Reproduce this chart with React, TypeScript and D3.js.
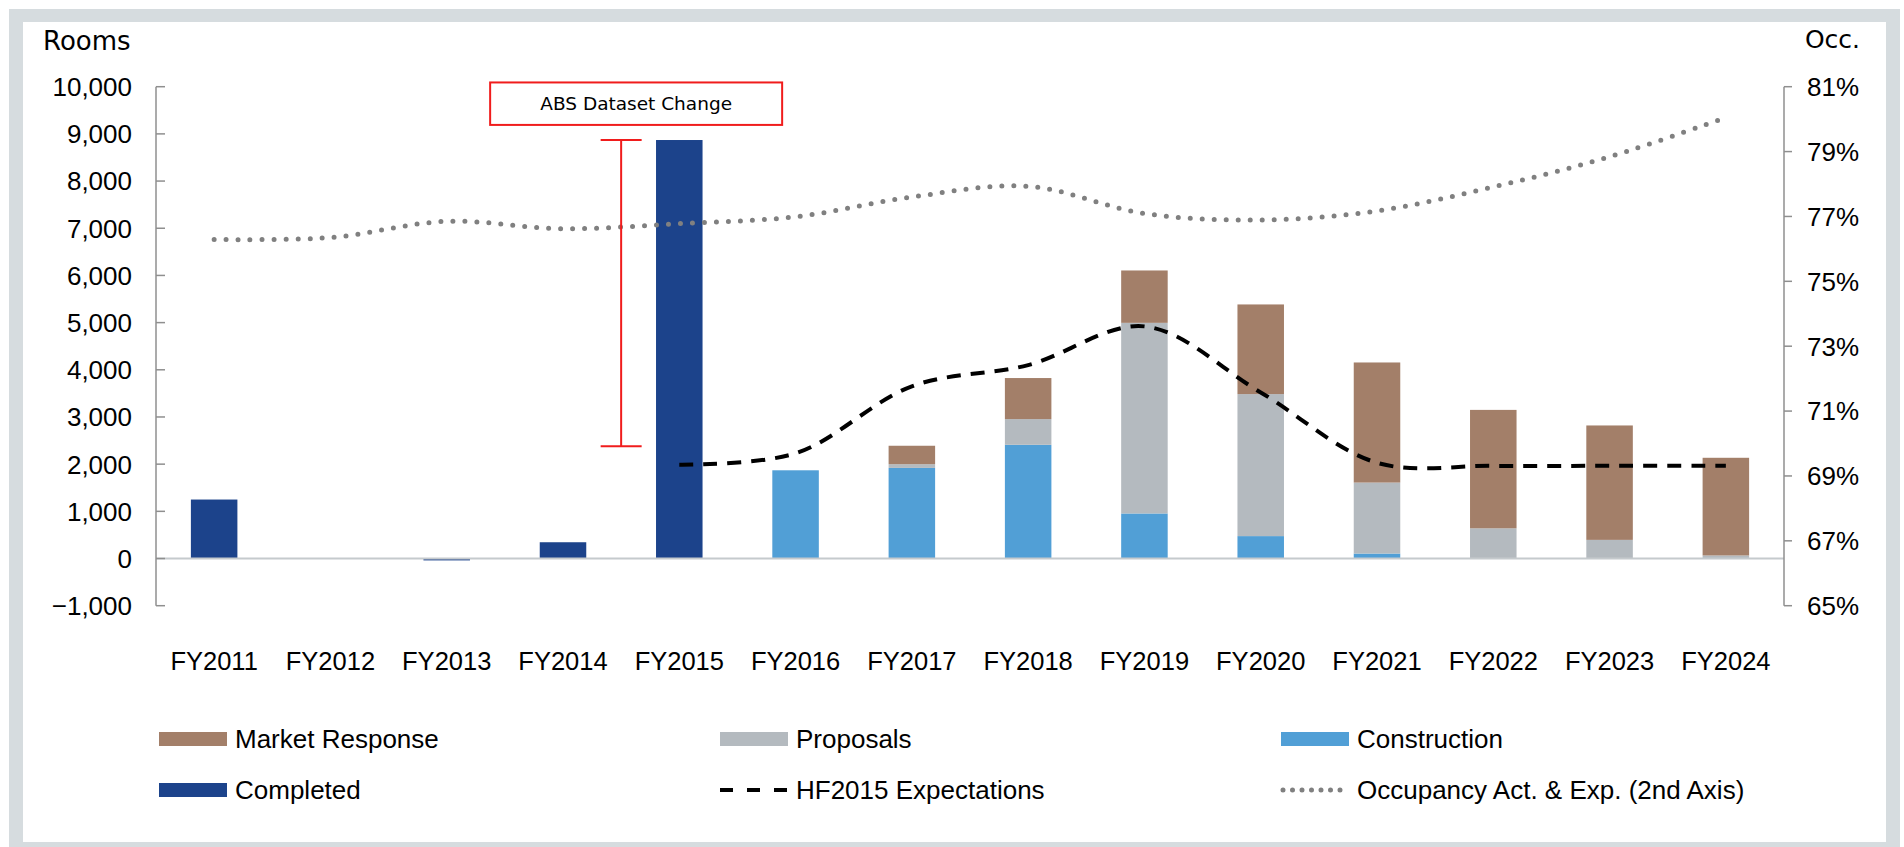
import * as d3 from 'd3';

const years = ['FY2011', 'FY2012', 'FY2013', 'FY2014', 'FY2015', 'FY2016', 'FY2017', 'FY2018', 'FY2019', 'FY2020', 'FY2021', 'FY2022', 'FY2023', 'FY2024'];
const completed = [1250, -10, -40, 345, 8870, 0, 0, 0, 0, 0, 0, 0, 0, 0];
const construction = [0, 0, 0, 0, 0, 1870, 1920, 2410, 955, 475, 105, 0, 0, 0];
const proposals = [0, 0, 0, 0, 0, 0, 80, 545, 4040, 3010, 1505, 640, 395, 65];
const marketResponse = [0, 0, 0, 0, 0, 0, 390, 870, 1110, 1900, 2545, 2510, 2425, 2070];
const hf2015 = [null, null, null, null, 1990, 2230, 3650, 4100, 4920, 3520, 2030, 1965, 1965, 1965];
const occupancy = [76.29, 76.35, 76.85, 76.62, 76.78, 76.99, 77.6, 77.93, 77.09, 76.89, 77.17, 77.91, 78.84, 80.05];

const leftTicks = [-1000, 0, 1000, 2000, 3000, 4000, 5000, 6000, 7000, 8000, 9000, 10000];
const rightTicks = [65, 67, 69, 71, 73, 75, 77, 79, 81];

// annotation: ABS dataset change, from FY2015 completed down to this value
const absLow = 2380;

const W = 1904;
const H = 847;
const PLOT = { left: 156, right: 1784, top: 86.7, bottom: 605.7 };

const COLORS = {
  market: '#a37f69',
  proposals: '#b4babf',
  construction: '#519fd6',
  completed: '#1c438b',
  frame: '#d6dcdf',
  axis: '#8f8f8f',
  zero: '#c5cacd',
  red: '#f01c1c',
  occ: '#808080',
};

const seriesKeys = ['completed', 'construction', 'proposals', 'market'];
const seriesColor: Record<string, string> = {
  completed: COLORS.completed,
  construction: COLORS.construction,
  proposals: COLORS.proposals,
  market: COLORS.market,
};

const tickFont = '"Liberation Sans", Arial, sans-serif';
const titleFont = '"DejaVu Sans", sans-serif';

export default function App() {
  const x = d3.scaleBand<string>().domain(years).range([PLOT.left, PLOT.right]).paddingInner(0.6).paddingOuter(0.3);
  const y = d3.scaleLinear().domain([-1000, 10000]).range([PLOT.bottom, PLOT.top]);
  const y2 = d3.scaleLinear().domain([65, 81]).range([PLOT.bottom, PLOT.top]);

  const rows = years.map((yr, i) => ({
    year: yr,
    completed: completed[i],
    construction: construction[i],
    proposals: proposals[i],
    market: marketResponse[i],
  }));
  const stacked = d3.stack<any>().keys(seriesKeys).offset(d3.stackOffsetDiverging)(rows);

  const cx = (yr: string) => (x(yr) as number) + x.bandwidth() / 2;

  const hfPts = years
    .map((yr, i) => ({ yr, v: hf2015[i] }))
    .filter((d) => d.v != null) as { yr: string; v: number }[];
  const hfLine = d3
    .line<{ yr: string; v: number }>()
    .x((d) => cx(d.yr))
    .y((d) => y(d.v))
    .curve(d3.curveCatmullRom.alpha(0.5));

  const occLine = d3
    .line<number>()
    .x((_, i) => cx(years[i]))
    .y((d) => y2(d))
    .curve(d3.curveCatmullRom.alpha(0.5));

  // annotation geometry
  const step = x.step();
  const absX = (x('FY2015') as number) - (step * x.paddingInner()) / 2;
  const absTop = y(completed[4]);
  const absBottom = y(absLow);
  const boxCx = absX + 15;
  const boxW = 292;
  const boxTop = y(10090);
  const boxBottom = y(9190);

  const legend = [
    { label: 'Market Response', kind: 'rect', color: COLORS.market, col: 0, row: 0 },
    { label: 'Proposals', kind: 'rect', color: COLORS.proposals, col: 1, row: 0 },
    { label: 'Construction', kind: 'rect', color: COLORS.construction, col: 2, row: 0 },
    { label: 'Completed', kind: 'rect', color: COLORS.completed, col: 0, row: 1 },
    { label: 'HF2015 Expectations', kind: 'dash', color: '#000', col: 1, row: 1 },
    { label: 'Occupancy Act. & Exp. (2nd Axis)', kind: 'dot', color: COLORS.occ, col: 2, row: 1 },
  ];
  const legCols = [159, 720, 1281];
  const legRows = [739, 790];

  return (
    <svg width={W} height={H} style={{ position: 'absolute', left: 0, top: 0 }}>
      {/* frame */}
      <rect x={9} y={9} width={1891} height={850} fill={COLORS.frame} />
      <rect x={23} y={22} width={1863} height={820} fill="#fff" />

      {/* bars */}
      {stacked.map((s) => (
        <g key={s.key} fill={seriesColor[s.key]}>
          {s.map((d, i) => {
            const h = Math.abs(y(d[0]) - y(d[1]));
            if (h < 0.5) return null;
            return (
              <rect
                key={i}
                x={x(years[i])}
                y={Math.min(y(d[0]), y(d[1]))}
                width={x.bandwidth()}
                height={h}
              />
            );
          })}
        </g>
      ))}

      {/* zero line */}
      <line x1={PLOT.left} x2={PLOT.right} y1={y(0)} y2={y(0)} stroke={COLORS.zero} strokeWidth={2} />

      {/* left axis */}
      <line x1={PLOT.left} x2={PLOT.left} y1={y(-1000)} y2={y(10000)} stroke={COLORS.axis} strokeWidth={1.5} />
      {leftTicks.map((t) => (
        <g key={t}>
          <line x1={PLOT.left} x2={PLOT.left + 9} y1={y(t)} y2={y(t)} stroke={COLORS.axis} strokeWidth={1.5} />
          <text x={PLOT.left - 24} y={y(t)} dy="0.36em" textAnchor="end" fontFamily={tickFont} fontSize={26} fill="#000">
            {d3.format(',')(t)}
          </text>
        </g>
      ))}

      {/* right axis */}
      <line x1={PLOT.right} x2={PLOT.right} y1={y2(65)} y2={y2(81)} stroke={COLORS.axis} strokeWidth={1.5} />
      {rightTicks.map((t) => (
        <g key={t}>
          <line x1={PLOT.right} x2={PLOT.right + 8} y1={y2(t)} y2={y2(t)} stroke={COLORS.axis} strokeWidth={1.5} />
          <text x={PLOT.right + 23} y={y2(t)} dy="0.36em" textAnchor="start" fontFamily={tickFont} fontSize={26} fill="#000">
            {t}%
          </text>
        </g>
      ))}

      {/* x labels */}
      {years.map((yr) => (
        <text key={yr} x={cx(yr)} y={670} textAnchor="middle" fontFamily={tickFont} fontSize={25.5} fill="#000">
          {yr}
        </text>
      ))}

      {/* axis titles */}
      <text x={43} y={50} fontFamily={titleFont} fontSize={26} fill="#000">Rooms</text>
      <text x={1860} y={48} textAnchor="end" fontFamily={titleFont} fontSize={25} fill="#000">Occ.</text>

      {/* occupancy dotted line */}
      <path
        d={occLine(occupancy) || ''}
        fill="none"
        stroke={COLORS.occ}
        strokeWidth={5}
        strokeLinecap="round"
        strokeDasharray="0 12"
      />

      {/* HF2015 expectations */}
      <path d={hfLine(hfPts) || ''} fill="none" stroke="#000" strokeWidth={4} strokeDasharray="14 10" />

      {/* ABS dataset change annotation */}
      <g stroke={COLORS.red} strokeWidth={2}>
        <line x1={absX} x2={absX} y1={absTop} y2={absBottom} />
        <line x1={absX - 20.5} x2={absX + 20.5} y1={absTop} y2={absTop} />
        <line x1={absX - 20.5} x2={absX + 20.5} y1={absBottom} y2={absBottom} />
        <rect x={boxCx - boxW / 2} y={boxTop} width={boxW} height={boxBottom - boxTop} fill="#fff" />
      </g>
      <text
        x={boxCx}
        y={(boxTop + boxBottom) / 2}
        dy="0.36em"
        textAnchor="middle"
        fontFamily={titleFont}
        fontSize={18.5}
        fill="#000"
      >
        ABS Dataset Change
      </text>

      {/* legend */}
      {legend.map((l) => {
        const lx = legCols[l.col];
        const ly = legRows[l.row];
        return (
          <g key={l.label}>
            {l.kind === 'rect' && <rect x={lx} y={ly - 7} width={68} height={14} fill={l.color} />}
            {l.kind === 'dash' && (
              <line x1={lx} x2={lx + 68} y1={ly} y2={ly} stroke={l.color} strokeWidth={4} strokeDasharray="13 14" />
            )}
            {l.kind === 'dot' && (
              <line
                x1={lx + 2}
                x2={lx + 68}
                y1={ly}
                y2={ly}
                stroke={l.color}
                strokeWidth={5}
                strokeLinecap="round"
                strokeDasharray="0 9.5"
              />
            )}
            <text x={lx + 76} y={ly + 9} fontFamily={tickFont} fontSize={26} fill="#000">
              {l.label}
            </text>
          </g>
        );
      })}
    </svg>
  );
}
